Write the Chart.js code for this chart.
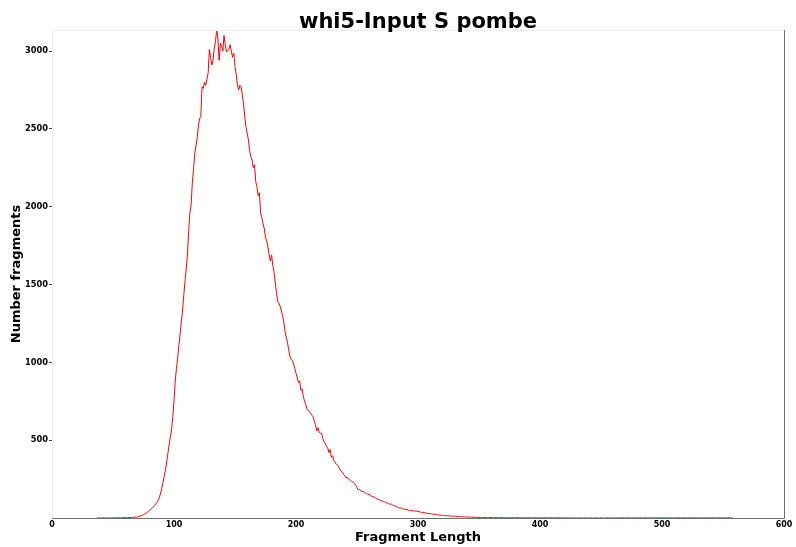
<!DOCTYPE html>
<html>
<head>
<meta charset="utf-8">
<script src="https://cdn.jsdelivr.net/npm/chart.js@4/dist/chart.umd.min.js"></script>
<style>
    html, body { margin: 0; padding: 0; background: #ffffff; }
    #wrap { width: 796px; height: 547px; }
</style>
</head>
<body>
<div id="wrap"><canvas id="fragChart" width="796" height="547"></canvas></div>
<script>
// fragment lengths start at 37, one count per integer length
const firstLength = 37;
const fragCounts = [
    0, 0, 1, 0, 0, 1, 0, 1, 0, 0,                               // 37
    1, 1, 0, 1, 1, 1, 2, 1, 1, 2,                               // 47
    1, 2, 2, 2, 3, 2, 3, 3, 3, 4,                               // 57
    4, 6, 6, 8, 9, 12, 14, 18, 21, 26,                          // 67
    31, 37, 42, 48, 55, 62, 70, 80, 90, 100,                    // 77
    114, 130, 160, 190, 230, 270, 305, 360, 415, 470,           // 87
    520, 570, 650, 750, 880, 960, 1030, 1110, 1180, 1260,       // 97
    1330, 1430, 1520, 1600, 1690, 1840, 1960, 2010, 2150, 2240, // 107
    2340, 2390, 2440, 2520, 2565, 2580, 2770, 2760, 2800, 2780, // 117
    2820, 2860, 3010, 2960, 2910, 2940, 3020, 3060, 3135, 3080, // 127
    2940, 3050, 3030, 3000, 3100, 3040, 2995, 3000, 3010, 3040, // 137
    3000, 2960, 2985, 2900, 2850, 2780, 2750, 2780, 2770, 2720, // 147
    2660, 2580, 2510, 2470, 2430, 2360, 2320, 2300, 2250, 2270, // 157
    2160, 2130, 2070, 2090, 1960, 1930, 1890, 1860, 1800, 1780, // 167
    1740, 1690, 1650, 1690, 1620, 1580, 1510, 1450, 1390, 1380, // 177
    1360, 1330, 1300, 1260, 1200, 1160, 1130, 1080, 1040, 1020, // 187
    1010, 990, 960, 930, 900, 870, 880, 820, 830, 780,          // 197
    750, 730, 700, 690, 685, 670, 660, 650, 620, 600,           // 207
    560, 580, 550, 545, 545, 510, 490, 480, 460, 450,           // 217
    420, 440, 390, 400, 370, 360, 345, 340, 330, 310,           // 227
    300, 295, 280, 270, 258, 262, 250, 245, 240, 232,           // 237
    230, 220, 210, 195, 180, 185, 175, 170, 172, 165,           // 247
    160, 158, 150, 152, 145, 140, 135, 138, 128, 125,           // 257
    120, 118, 114, 110, 106, 108, 100, 96, 98, 92,              // 267
    88, 90, 84, 80, 78, 75, 70, 68, 64, 66,                     // 277
    60, 58, 56, 54, 55, 50, 48, 50, 46, 47,                     // 287
    44, 43, 45, 42, 40, 38, 36, 37, 33, 34,                     // 297
    31, 30, 28, 29, 26, 24, 25, 22, 21, 22,                     // 307
    19, 18, 18, 17, 15, 16, 14, 15, 13, 14,                     // 317
    12, 12, 11, 12, 11, 10, 10, 9, 9, 8,                        // 327
    8, 7, 7, 7, 6, 6, 6, 5, 5, 5,                               // 337
    5, 4, 4, 4, 4, 3, 4, 3, 3, 3,                               // 347
    3, 2, 3, 3, 2, 3, 2, 2, 3, 2,                               // 357
    2, 2, 2, 2, 2, 2, 1, 2, 2, 1,                               // 367
    2, 2, 1, 2, 1, 2, 1, 1, 2, 1,                               // 377
    1, 2, 1, 1, 1, 2, 1, 1, 1, 2,                               // 387
    1, 1, 1, 1, 1, 1, 2, 1, 1, 1,                               // 397
    1, 2, 1, 1, 1, 1, 1, 1, 2, 1,                               // 407
    1, 1, 1, 1, 1, 0, 1, 0, 0, 1,                               // 417
    0, 0, 1, 0, 0, 0, 1, 0, 0, 0,                               // 427
    1, 0, 0, 0, 0, 1, 0, 0, 0, 1,                               // 437
    0, 0, 0, 1, 0, 0, 0, 0, 1, 0,                               // 447
    0, 1, 0, 0, 1, 1, 0, 1, 1, 1,                               // 457
    1, 1, 1, 0, 1, 1, 1, 1, 0, 1,                               // 467
    1, 1, 1, 1, 0, 1, 1, 1, 1, 1,                               // 477
    1, 0, 1, 1, 1, 1, 1, 0, 1, 1,                               // 487
    1, 1, 1, 1, 1, 1, 0, 1, 1, 1,                               // 497
    1, 1, 0, 1, 1, 1, 1, 1, 1, 0,                               // 507
    1, 1, 1, 1, 1, 1, 0, 1, 1, 1,                               // 517
    1, 1, 1, 0, 1, 1, 1, 1, 1, 1,                               // 527
    0, 1, 1, 1, 1, 1, 1, 0, 1, 1,                               // 537
    1, 1, 1, 1, 0, 1, 1, 1, 1, 1,                               // 547
    1, 1                                                        // 557
];
const fragLengths = fragCounts.map((_, i) => firstLength + i);

const xTicks = [0, 100, 200, 300, 400, 500, 600];
const yTicks = [500, 1000, 1500, 2000, 2500, 3000];
const yMax = 3135;
const chartTitle = 'whi5-Input S pombe';

const font = 'DejaVu Sans';

// frame like matplotlib: light top/left, darker bottom/right, drawn over the line
// title is centred over the plot area, not the whole canvas
const frame = {
    id: 'frame',
    afterDatasetsDraw(chart) {
        const { ctx, chartArea: a } = chart;
        ctx.save();
        ctx.lineWidth = 1;
        ctx.strokeStyle = '#ececec';
        ctx.beginPath();
        ctx.moveTo(a.left + 0.5, a.bottom);
        ctx.lineTo(a.left + 0.5, a.top + 0.5);
        ctx.lineTo(a.right, a.top + 0.5);
        ctx.stroke();
        ctx.strokeStyle = '#6e6e6e';
        ctx.beginPath();
        ctx.moveTo(a.left, a.bottom + 0.5);
        ctx.lineTo(a.right + 0.5, a.bottom + 0.5);
        ctx.lineTo(a.right + 0.5, a.top);
        ctx.stroke();

        ctx.fillStyle = '#000';
        ctx.font = 'bold 21px "' + font + '"';
        ctx.textAlign = 'center';
        ctx.textBaseline = 'alphabetic';
        ctx.fillText(chartTitle, (a.left + a.right) / 2, 28);
        ctx.restore();
    }
};

new Chart(document.getElementById('fragChart'), {
    type: 'line',
    data: {
        datasets: [{
            label: chartTitle,
            data: fragLengths.map((len, i) => ({ x: len, y: fragCounts[i] })),
            borderColor: '#ff0000',
            borderWidth: 1,
            pointRadius: 0,
            tension: 0,
            fill: false
        }]
    },
    options: {
        responsive: false,
        animation: false,
        devicePixelRatio: 1,
        layout: { padding: { left: 0, right: 12, top: 30, bottom: 0 } },
        plugins: {
            legend: { display: false },
            tooltip: { enabled: false },
            title: { display: false }
        },
        scales: {
            x: {
                type: 'linear',
                min: 0,
                max: 600,
                afterFit: s => { s.height = 29; },
                afterBuildTicks: s => { s.ticks = xTicks.map(v => ({ value: v })); },
                grid: { drawOnChartArea: false, drawTicks: true, tickLength: 2, color: 'rgba(0,0,0,0)' },
                border: { display: false },
                ticks: {
                    color: '#000',
                    padding: 0,
                    maxRotation: 0,
                    callback: v => String(v),
                    font: { family: font, size: 8, weight: 'bold' }
                },
                title: {
                    display: true,
                    text: 'Fragment Length',
                    color: '#000',
                    font: { family: font, size: 13, weight: 'bold', lineHeight: 1.2 },
                    padding: { top: 0, bottom: 2 }
                }
            },
            y: {
                min: 0,
                max: yMax,
                afterFit: s => { s.width = 52; },
                afterBuildTicks: s => { s.ticks = yTicks.map(v => ({ value: v })); },
                grid: { drawOnChartArea: false, drawTicks: true, tickLength: 3, color: '#444' },
                border: { display: false },
                ticks: {
                    color: '#000',
                    padding: 1,
                    callback: v => String(v),
                    font: { family: font, size: 8.3, weight: 'bold' }
                },
                title: {
                    display: true,
                    text: 'Number fragments',
                    color: '#000',
                    font: { family: font, size: 13, weight: 'bold', lineHeight: 1.2 },
                    padding: { top: 9, bottom: 0 }
                }
            }
        }
    },
    plugins: [frame]
});
</script>
</body>
</html>
